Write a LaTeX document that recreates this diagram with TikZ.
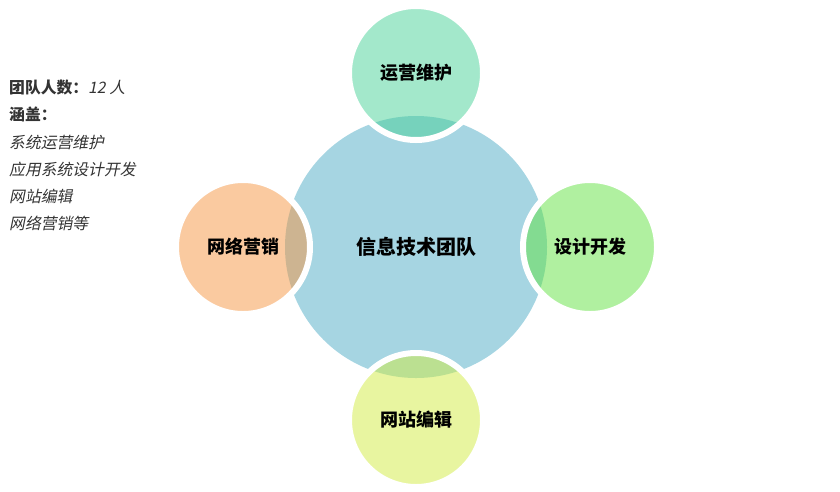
\documentclass[tikz,border=0pt]{standalone}
\usepackage{fontspec}
\newfontfamily\cjk{Noto Sans CJK SC}
\newfontfamily\cjkit[FakeSlant=0.2]{Noto Sans CJK SC}
\definecolor{teamblue}{HTML}{A6D5E2}
\definecolor{opsgreen}{HTML}{47D197}
\definecolor{devgreen}{HTML}{61E141}
\definecolor{mktorange}{HTML}{F59541}
\definecolor{webyellow}{HTML}{D1EB41}
\definecolor{infogray}{HTML}{333333}

\begin{document}
\begin{tikzpicture}[x=1pt, y=-1pt, every node/.style={font=\cjk\bfseries},
	part/.style={circle, minimum size=134pt, inner sep=0pt, fill opacity=0.5, text opacity=1,
		draw=white, line width=6pt, font=\cjk\bfseries\fontsize{18}{21}\selectfont}]
	\useasboundingbox (0,0) rectangle (840,491);
	\node[circle, fill=teamblue, minimum size=262pt, inner sep=0pt,
		font=\cjk\bfseries\fontsize{20}{24}\selectfont] (team) at (416,247) {信息技术团队};
	\node[part, fill=opsgreen] (ops) at (416,73) {运营维护};
	\node[part, fill=devgreen] (dev) at (590,247) {设计开发};
	\node[part, fill=webyellow] (web) at (416,420) {网站编辑};
	\node[part, fill=mktorange] (mkt) at (243,247) {网络营销};
	\node[anchor=north west, inner sep=0pt, align=left, text=infogray,
		font=\fontsize{15.8}{27.2}\selectfont] (info) at (9,80)
		{{\cjk\bfseries 团队人数：}{\cjkit 12 人}\\
		 {\cjk\bfseries 涵盖：}\\
		 {\cjkit 系统运营维护}\\
		 {\cjkit 应用系统设计开发}\\
		 {\cjkit 网站编辑}\\
		 {\cjkit 网络营销等}};
\end{tikzpicture}
\end{document}
